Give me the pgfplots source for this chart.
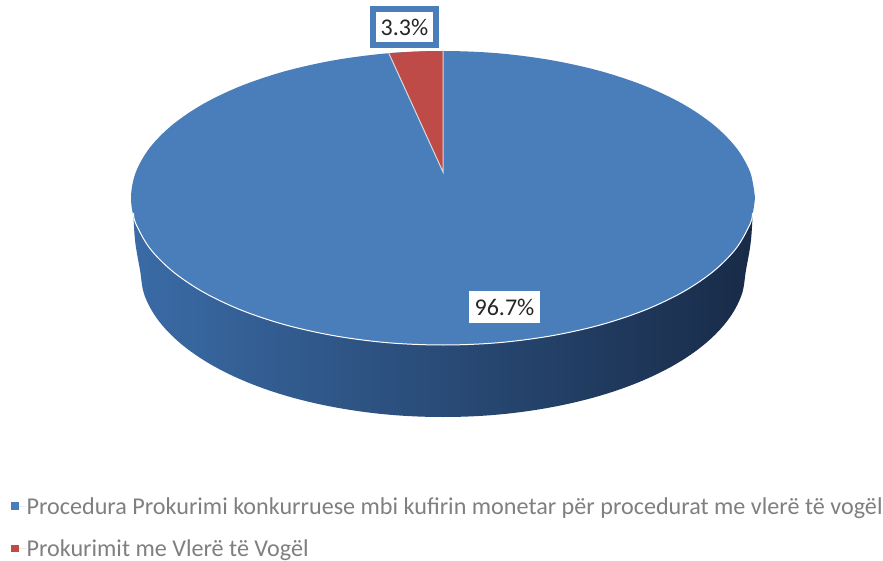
\documentclass[border=0pt]{standalone}
\usepackage{pgfplots}
\pgfplotsset{compat=1.18}
\usepackage{fontspec}
\setmainfont{Carlito}
\definecolor{pieblue}{HTML}{4A7EBB}
\definecolor{piered}{HTML}{BE4B48}
\definecolor{framblue}{HTML}{4A7EBB}
\definecolor{sideleft}{HTML}{3A6BA6}
\definecolor{sidemid}{HTML}{2B4C7B}
\definecolor{sideright}{HTML}{182B48}
\definecolor{legtext}{HTML}{7F7F7F}
\begin{document}
\begin{tikzpicture}
\useasboundingbox (0,0) rectangle (883pt,561pt);
\begin{axis}[
  scale only axis, width=883pt, height=561pt,
  xmin=0, xmax=883, ymin=0, ymax=561, y dir=reverse,
  hide axis, clip=false, no markers,
  legend style={draw=none, fill=none, at={(axis cs:11,527.5)}, anchor=west,
    font=\fontsize{24.15}{26}\selectfont\color{legtext},
    row sep=24pt, inner sep=0pt, outer sep=0pt,
    nodes={inner sep=0pt, anchor=west}},
  legend cell align=left,
  legend image code/.code={\path[#1] (-5pt,-3.5pt) rectangle +(7.6pt,7.6pt); \path (0pt,0pt) -- (10.6pt,0pt);},
]
% side wall of the disc
\addplot[forget plot, draw=none, smooth, tension=0.6, left color=sideleft, middle color=sidemid, right color=sideright] coordinates {
 (753,205) (751,240) (746,270) (741.4,295.5) (727.7,320.3) (705.4,343.5) (675.1,364.5) (637.8,382.6)
 (594.5,397.3) (546.6,408.1) (495.6,414.8) (443,417) (390.4,414.8) (339.4,408.1)
 (291.5,397.3) (248.2,382.6) (210.9,364.5) (180.6,343.5) (158.3,320.3) (144.6,295.5)
 (140,270) (135,240) (133,205)} --cycle;
% top of the disc, larger share
\addplot[fill=pieblue, draw=none, smooth, tension=0.55] coordinates {
 (755,198) (750.3,223.5) (736.2,248.3) (713.2,271.5) (682,292.5) (643.6,310.6) (599,325.3)
 (549.7,336.1) (497.2,342.8) (443,345) (388.8,342.8) (336.3,336.1) (287,325.3) (242.4,310.6)
 (204,292.5) (172.8,271.5) (149.8,248.3) (135.7,223.5) (131,198) (135.7,172.5) (149.8,147.7)
 (172.8,124.5) (204,103.5) (242.4,85.4) (287,70.7) (336.3,59.9) (388.8,53.2) (443,51)
 (497.2,53.2) (549.7,59.9) (599,70.7) (643.6,85.4) (682,103.5) (713.2,124.5) (736.2,147.7)
 (750.3,172.5) (755,198)} --cycle;
\addlegendentry{Procedura Prokurimi konkurruese mbi kufirin monetar për procedurat me vlerë të vogël}
% smaller share
\addplot[fill=piered, draw=none] coordinates {
 (443,172) (388.8,53.2) (416,51.6) (443,51) (443,172)};
\addlegendentry{Prokurimit me Vlerë të Vogël}
% white edges
\addplot[forget plot, white, line width=1pt, smooth, tension=0.55] coordinates {
 (752.5,213) (750.3,223.5) (736.2,248.3) (713.2,271.5) (682,292.5) (643.6,310.6) (599,325.3)
 (549.7,336.1) (497.2,342.8) (443,345) (388.8,342.8) (336.3,336.1) (287,325.3) (242.4,310.6)
 (204,292.5) (172.8,271.5) (149.8,248.3) (135.7,223.5) (133.5,213)};
\addplot[forget plot, white!85!black, line width=1pt] coordinates {(388.8,53.2) (443,172) (443,51)};
\node[fill=white, draw=framblue, line width=6pt, inner sep=0pt, minimum width=63pt, minimum height=36pt,
  font=\fontsize{24}{26}\selectfont, text=black!85] at (axis cs:404.5,27) {3.3\%};
\node[fill=white, inner sep=0pt, minimum width=71pt, minimum height=32pt,
  font=\fontsize{24}{26}\selectfont, text=black!85] at (axis cs:504.5,307) {96.7\%};
\end{axis}
\end{tikzpicture}
\end{document}
